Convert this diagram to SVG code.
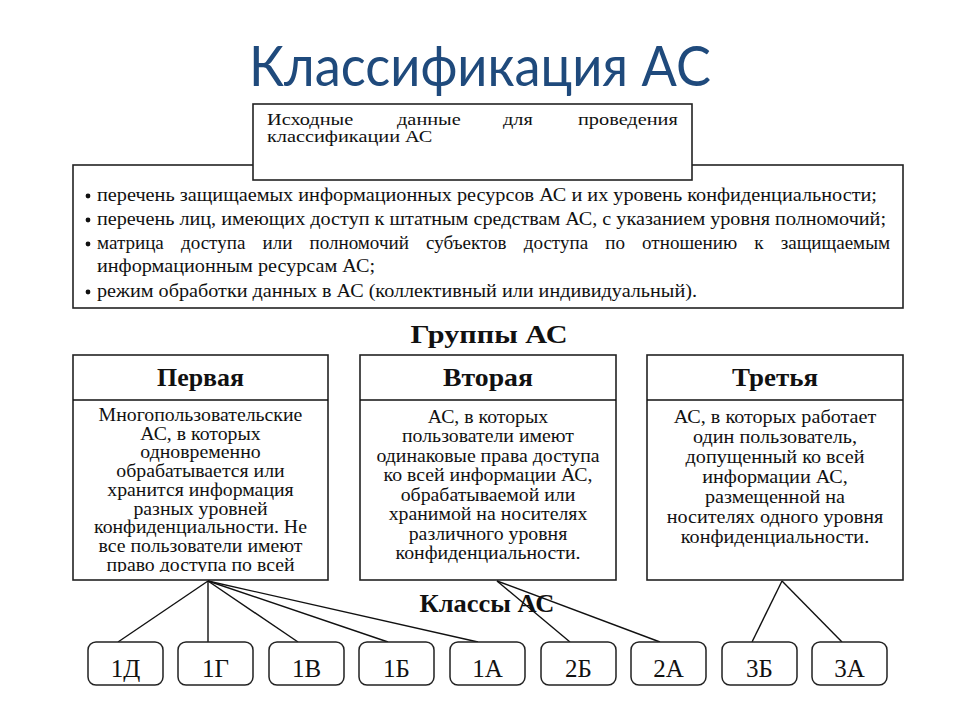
<svg xmlns="http://www.w3.org/2000/svg" width="960" height="720" viewBox="0 0 960 720">
<style>
.t{font-family:"Liberation Serif","Times New Roman",serif;fill:#111}
.b{font-size:18.5px}
.g{font-size:18px;text-anchor:middle}
.h{font-size:25px;font-weight:bold;text-anchor:middle}
.c{font-size:25px;text-anchor:middle}
.box{fill:#fff;stroke:#222;stroke-width:1.6}
.cls{fill:#fff;stroke:#222;stroke-width:1.5}
.ln{stroke:#111;stroke-width:1.4;fill:none}
</style>
<defs>
<clipPath id="clip1"><rect x="74" y="401" width="254" height="171"/></clipPath>
</defs>
<rect width="960" height="720" fill="#fff"/>
<text x="480" y="86" text-anchor="middle" font-family="Lato,'Open Sans',sans-serif" font-size="57" fill="#1f4a7c" textLength="462" lengthAdjust="spacingAndGlyphs">Классификация АС</text>

<g id="criteria">
<rect class="box" x="73" y="165" width="830" height="143"/>
<circle cx="88" cy="196" r="2.4" fill="#111"/>
<text class="t b" x="97" y="201" textLength="780" lengthAdjust="spacingAndGlyphs">перечень защищаемых информационных ресурсов АС и их уровень конфиденциальности;</text>
<circle cx="88" cy="220" r="2.4" fill="#111"/>
<text class="t b" x="97" y="225" textLength="789" lengthAdjust="spacingAndGlyphs">перечень лиц, имеющих доступ к штатным средствам АС, с указанием уровня полномочий;</text>
<circle cx="88" cy="244" r="2.4" fill="#111"/>
<text class="t b" x="97" y="249" word-spacing="12" textLength="793" lengthAdjust="spacingAndGlyphs">матрица доступа или полномочий субъектов доступа по отношению к защищаемым</text>
<text class="t b" x="97" y="272" textLength="278" lengthAdjust="spacingAndGlyphs">информационным ресурсам АС;</text>
<circle cx="88" cy="292" r="2.4" fill="#111"/>
<text class="t b" x="97" y="297" textLength="600" lengthAdjust="spacingAndGlyphs">режим обработки данных в АС (коллективный или индивидуальный).</text>
</g>

<g id="source">
<rect class="box" x="253" y="104" width="439" height="76"/>
<g transform="translate(267,0) scale(1.27,1) translate(-267,0)">
<text class="t" font-size="16" y="125"><tspan x="267">Исходные</tspan><tspan x="369.4">данные</tspan><tspan x="452.8">для</tspan><tspan x="511.9">проведения</tspan></text>
<text class="t" font-size="16" x="267" y="142">классификации АС</text>
</g>
</g>

<text class="t h" x="489" y="343" font-size="26" textLength="157" lengthAdjust="spacingAndGlyphs">Группы АС</text>

<g id="group1">
<rect class="box" x="73" y="355" width="255" height="225"/>
<line class="ln" x1="73" y1="400" x2="328" y2="400" stroke-width="1.6"/>
<text class="t h" x="200.5" y="386" textLength="87" lengthAdjust="spacingAndGlyphs">Первая</text>
<g clip-path="url(#clip1)">
<g transform="translate(200.5,0) scale(1.1,1) translate(-200.5,0)">
<text class="t g" x="200.5" y="421">Многопользовательские</text>
<text class="t g" x="200.5" y="439.75">АС, в которых</text>
<text class="t g" x="200.5" y="458.5">одновременно</text>
<text class="t g" x="200.5" y="477.25">обрабатывается или</text>
<text class="t g" x="200.5" y="496">хранится информация</text>
<text class="t g" x="200.5" y="514.75">разных уровней</text>
<text class="t g" x="200.5" y="533.5">конфиденциальности. Не</text>
<text class="t g" x="200.5" y="552.25">все пользователи имеют</text>
<text class="t g" x="200.5" y="571">право доступа по всей</text>
</g>
</g>
</g>

<g id="group2">
<rect class="box" x="360" y="355" width="256" height="225"/>
<line class="ln" x1="360" y1="400" x2="616" y2="400" stroke-width="1.6"/>
<text class="t h" x="488" y="386" textLength="90" lengthAdjust="spacingAndGlyphs">Вторая</text>
<g transform="translate(488,0) scale(1.1,1) translate(-488,0)">
<text class="t g" x="488" y="423">АС, в которых</text>
<text class="t g" x="488" y="442.5">пользователи имеют</text>
<text class="t g" x="488" y="462">одинаковые права доступа</text>
<text class="t g" x="488" y="481.5">ко всей информации АС,</text>
<text class="t g" x="488" y="501">обрабатываемой или</text>
<text class="t g" x="488" y="520.5">хранимой на носителях</text>
<text class="t g" x="488" y="540">различного уровня</text>
<text class="t g" x="488" y="559.5">конфиденциальности.</text>
</g>
</g>

<g id="group3">
<rect class="box" x="647" y="355" width="256" height="225"/>
<line class="ln" x1="647" y1="400" x2="903" y2="400" stroke-width="1.6"/>
<text class="t h" x="775" y="386" textLength="86" lengthAdjust="spacingAndGlyphs">Третья</text>
<g transform="translate(775,0) scale(1.12,1) translate(-775,0)">
<text class="t g" x="775" y="423">АС, в которых работает</text>
<text class="t g" x="775" y="443">один пользователь,</text>
<text class="t g" x="775" y="463">допущенный ко всей</text>
<text class="t g" x="775" y="483">информации АС,</text>
<text class="t g" x="775" y="503">размещенной на</text>
<text class="t g" x="775" y="523">носителях одного уровня</text>
<text class="t g" x="775" y="543">конфиденциальности.</text>
</g>
</g>

<g id="connectors">
<line class="ln" x1="208" y1="581" x2="118" y2="642"/>
<line class="ln" x1="208" y1="581" x2="208" y2="642"/>
<line class="ln" x1="208" y1="581" x2="298" y2="642"/>
<line class="ln" x1="208" y1="581" x2="388" y2="642"/>
<line class="ln" x1="208" y1="581" x2="478" y2="642"/>
<line class="ln" x1="497" y1="581" x2="570" y2="642"/>
<line class="ln" x1="497" y1="581" x2="660" y2="642"/>
<line class="ln" x1="782" y1="581" x2="752" y2="642"/>
<line class="ln" x1="782" y1="581" x2="842" y2="642"/>
</g>

<text class="t h" x="487" y="612" textLength="135" lengthAdjust="spacingAndGlyphs">Классы АС</text>

<g id="c1D"><rect class="cls" x="88" y="642" width="75" height="43" rx="8"/><text class="t c" x="125.5" y="677">1Д</text></g>
<g id="c1G"><rect class="cls" x="178" y="642" width="75" height="43" rx="8"/><text class="t c" x="215.5" y="677">1Г</text></g>
<g id="c1V"><rect class="cls" x="269" y="642" width="75" height="43" rx="8"/><text class="t c" x="306.5" y="677">1В</text></g>
<g id="c1B"><rect class="cls" x="359" y="642" width="75" height="43" rx="8"/><text class="t c" x="396.5" y="677">1Б</text></g>
<g id="c1A"><rect class="cls" x="450" y="642" width="75" height="43" rx="8"/><text class="t c" x="487.5" y="677">1А</text></g>
<g id="c2B"><rect class="cls" x="541" y="642" width="75" height="43" rx="8"/><text class="t c" x="578.5" y="677">2Б</text></g>
<g id="c2A"><rect class="cls" x="631" y="642" width="75" height="43" rx="8"/><text class="t c" x="668.5" y="677">2А</text></g>
<g id="c3B"><rect class="cls" x="722" y="642" width="75" height="43" rx="8"/><text class="t c" x="759.5" y="677">3Б</text></g>
<g id="c3A"><rect class="cls" x="812" y="642" width="75" height="43" rx="8"/><text class="t c" x="849.5" y="677">3А</text></g>
</svg>
